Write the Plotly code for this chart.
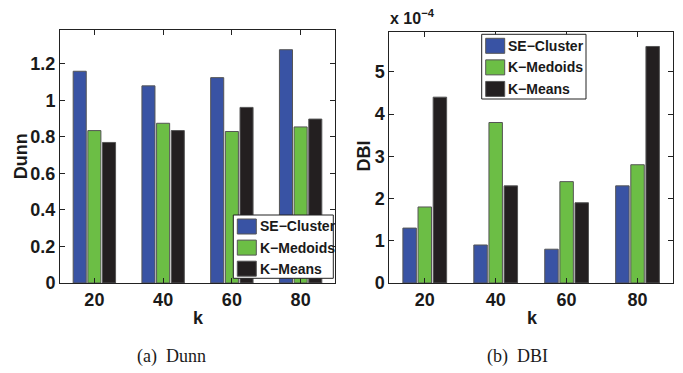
import plotly.graph_objects as go

# ---- data -------------------------------------------------------------
k_values = ["20", "40", "60", "80"]
methods = ["SE−Cluster", "K−Medoids", "K−Means"]

dunn_se = [1.16, 1.08, 1.125, 1.278]
dunn_kmedoids = [0.835, 0.875, 0.83, 0.855]
dunn_kmeans = [0.77, 0.835, 0.962, 0.898]

dbi_se = [1.3e-4, 0.9e-4, 0.8e-4, 2.3e-4]
dbi_kmedoids = [1.8e-4, 3.8e-4, 2.4e-4, 2.8e-4]
dbi_kmeans = [4.4e-4, 2.3e-4, 1.9e-4, 5.6e-4]

dunn_ticks = [0, 0.2, 0.4, 0.6, 0.8, 1.0, 1.2]
dunn_ticktext = ["0", "0.2", "0.4", "0.6", "0.8", "1", "1.2"]
dbi_scale = 1e-4
dbi_ticks = [0, 1, 2, 3, 4, 5]

colors = ["#3953A4", "#6CBE45", "#231F20"]
W, H = 683, 373
FONT = "Liberation Sans, Arial, Helvetica, sans-serif"
SERIF = "Liberation Serif, Times New Roman, serif"


def px_x(p):
    return p / W


def px_y(p):
    return 1 - p / H


fig = go.Figure()

for name, vals, col in zip(methods, [dunn_se, dunn_kmedoids, dunn_kmeans], colors):
    fig.add_trace(go.Bar(x=k_values, y=vals, name=name, marker_color=col,
                         marker_line=dict(color="#555555", width=1),
                         xaxis="x", yaxis="y", showlegend=False))

for name, vals, col in zip(methods, [dbi_se, dbi_kmedoids, dbi_kmeans], colors):
    fig.add_trace(go.Bar(x=k_values, y=vals, name=name, marker_color=col,
                         marker_line=dict(color="#555555", width=1),
                         xaxis="x2", yaxis="y2", showlegend=False))

axis_common = dict(showline=True, linecolor="#222222", linewidth=1, mirror="ticks",
                   ticks="inside", ticklen=5, tickcolor="#222222", showgrid=False,
                   zeroline=False, automargin=False,
                   tickfont=dict(family=FONT, size=18, color="#1a1a1a", weight="bold"))

fig.update_layout(
    template="none",
    width=W, height=H, margin=dict(l=0, r=0, t=0, b=0, pad=0), autosize=False,
    paper_bgcolor="white", plot_bgcolor="white", showlegend=False,
    barmode="group", bargap=0.36, bargroupgap=0.11,
    xaxis=dict(domain=[px_x(60), px_x(335)], anchor="y", type="category",
               range=[-0.5, 3.5], **axis_common),
    yaxis=dict(domain=[px_y(283), px_y(30)], anchor="x", range=[0, 1.386],
               tickvals=dunn_ticks, ticktext=dunn_ticktext, **axis_common),
    xaxis2=dict(domain=[px_x(389.3), px_x(673)], anchor="y2", type="category",
                range=[-0.5, 3.5], **axis_common),
    yaxis2=dict(domain=[px_y(283), px_y(31.7)], anchor="x2", range=[0, 5.95e-4],
                tickvals=[t * dbi_scale for t in dbi_ticks],
                ticktext=[str(t) for t in dbi_ticks], **axis_common),
)

annotations = []
bold = dict(family=FONT, size=18, color="#1a1a1a", weight="bold")


def label(text, x, y, font, angle=0, xanchor="center", yanchor="middle"):
    annotations.append(dict(text=text, x=px_x(x), y=px_y(y), xref="paper", yref="paper",
                            xanchor=xanchor, yanchor=yanchor, textangle=angle,
                            showarrow=False, font=font))


# axis titles
label("Dunn", 21.7, 156.5, bold, angle=-90)
label("DBI", 364, 156.5, bold, angle=-90)
label("k", 198, 318, bold)
label("k", 532, 318, bold)
# exponent label of the DBI axis
label("x 10<sup>−4</sup>", 388, 29, dict(family=FONT, size=16, color="#1a1a1a", weight="bold"),
      xanchor="left", yanchor="bottom")
# sub-figure captions
serif = dict(family=SERIF, size=18, color="#1a1a1a")
label("(a)  Dunn", 171.5, 356, serif)
label("(b)  DBI", 517, 356, serif)

shapes = []


def add_legend(left, top, right, bottom):
    shapes.append(dict(type="rect", xref="paper", yref="paper",
                       x0=px_x(left), x1=px_x(right), y0=px_y(bottom), y1=px_y(top),
                       line=dict(color="#222222", width=1), fillcolor="white"))
    row_h = (bottom - top) / 3
    for i, (name, col) in enumerate(zip(methods, colors)):
        y0 = top + 4 + i * row_h
        shapes.append(dict(type="rect", xref="paper", yref="paper",
                           x0=px_x(left + 4), x1=px_x(left + 23),
                           y0=px_y(y0 + 15), y1=px_y(y0),
                           line=dict(color="#555555", width=1), fillcolor=col))
        label(name, left + 24.5, y0 + 7.5,
              dict(family=FONT, size=14, color="#1a1a1a", weight="bold"),
              xanchor="left")


add_legend(233.3, 215, 333.3, 278.3)
add_legend(481.7, 34.3, 586, 99)

fig.update_layout(annotations=annotations, shapes=shapes)

fig.write_html("out.html")
